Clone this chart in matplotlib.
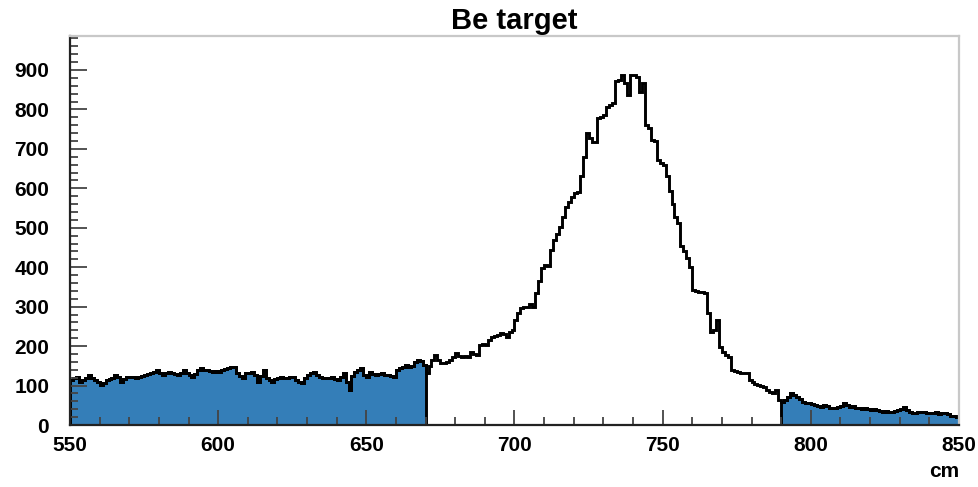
import numpy as np
import matplotlib
matplotlib.use("Agg")
import matplotlib.pyplot as plt
from matplotlib.ticker import MultipleLocator

plt.rcParams["font.family"] = ["Liberation Sans", "DejaVu Sans"]
plt.rcParams["font.weight"] = "bold"

# 1 cm bins from 550 to 850 cm
x_lo = 550
x_hi = 850
counts = [
    114, 118, 122, 110, 115, 120, 127, 119, 114, 108,
    101, 106, 114, 116, 118, 127, 121, 110, 116, 122,
    121, 122, 120, 122, 125, 127, 130, 133, 135, 139,
    133, 127, 132, 135, 131, 129, 127, 132, 139, 131,
    127, 122, 130, 139, 144, 140, 139, 136, 135, 137,
    135, 139, 142, 145, 148, 146, 131, 124, 118, 131,
    131, 135, 128, 110, 124, 139, 118, 114, 110, 116,
    118, 122, 120, 118, 121, 122, 114, 110, 106, 118,
    127, 131, 135, 127, 122, 118, 118, 120, 122, 116,
    114, 122, 131, 110, 89, 125, 135, 140, 144, 127,
    122, 135, 130, 127, 129, 131, 128, 127, 124, 122,
    140, 144, 148, 152, 148, 150, 160, 165, 162, 152,
    131, 150, 165, 177, 165, 156, 158, 160, 165, 172,
    182, 176, 173, 175, 173, 186, 180, 177, 203, 205,
    203, 215, 224, 226, 228, 232, 230, 224, 236, 241,
    266, 285, 296, 298, 300, 306, 300, 334, 365, 398,
    405, 402, 444, 469, 485, 503, 528, 553, 565, 579,
    587, 590, 630, 680, 740, 728, 718, 718, 778, 782,
    786, 807, 812, 816, 871, 875, 887, 866, 837, 887,
    887, 883, 845, 866, 761, 752, 723, 720, 672, 665,
    659, 630, 592, 560, 528, 511, 455, 440, 423, 401,
    342, 340, 338, 336, 334, 284, 237, 241, 266, 199,
    185, 177, 173, 140, 138, 135, 133, 131, 131, 114,
    110, 105, 101, 99, 97, 89, 84, 80, 89, 63,
    59, 63, 70, 80, 76, 72, 65, 59, 57, 55,
    53, 51, 48, 46, 50, 47, 44, 42, 43, 45,
    48, 55, 50, 46, 47, 44, 42, 41, 42, 40,
    38, 40, 37, 36, 34, 35, 33, 34, 35, 37,
    40, 46, 38, 32, 30, 31, 33, 34, 32, 30,
    31, 30, 32, 29, 30, 30, 28, 24, 22, 21,
]
# sideband windows that get shaded
side_lo = (550, 670)
side_hi = (790, 850)

counts = np.array(counts, dtype=float)
edges = np.arange(x_lo, x_hi + 1, 1.0)
fill_clr = "#347eb8"

fig = plt.figure(figsize=(9.79, 4.87), dpi=100)
ax = fig.add_axes([0.0715, 0.1273, 0.908, 0.7987])

for a, b in (side_lo, side_hi):
    i0, i1 = a - x_lo, b - x_lo
    ax.stairs(counts[i0:i1], edges[i0:i1 + 1], fill=True, color=fill_clr, lw=0)
    ax.stairs(counts[i0:i1], edges[i0:i1 + 1], baseline=0, color="black", lw=2.1)

ax.stairs(counts, edges, color="black", lw=2.1)

ax.set_xlim(x_lo, x_hi)
ax.set_ylim(0, 986)

ax.xaxis.set_major_locator(MultipleLocator(50))
ax.xaxis.set_minor_locator(MultipleLocator(10))
ax.yaxis.set_major_locator(MultipleLocator(100))
ax.yaxis.set_minor_locator(MultipleLocator(20))
ax.tick_params(which="both", direction="in", colors="#444444", width=1.3,
               labelcolor="black", labelsize=15)
ax.tick_params(axis="y", which="major", length=12, pad=15)
ax.tick_params(axis="y", which="minor", length=6)
ax.tick_params(axis="x", which="major", length=11, pad=8)
ax.tick_params(axis="x", which="minor", length=6)

for side in ("left", "bottom"):
    ax.spines[side].set_color("#222222")
    ax.spines[side].set_linewidth(1.6)
for side in ("top", "right"):
    ax.spines[side].set_color("#c8c8c8")
    ax.spines[side].set_linewidth(1.6)

ax.set_title("Be target", fontsize=21, fontweight="bold", pad=5)
ax.set_xlabel("cm", fontsize=15, fontweight="bold", loc="right", labelpad=5)

fig.savefig("out.png", dpi=100)
